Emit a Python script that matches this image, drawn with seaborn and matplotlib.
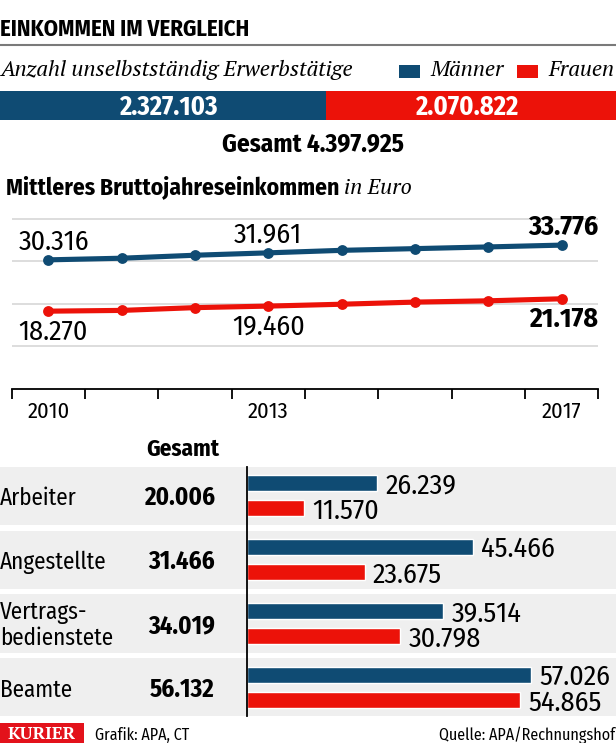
import numpy as np
import pandas as pd
import seaborn as sns
import matplotlib
matplotlib.use("Agg")
import matplotlib.pyplot as plt
from matplotlib.patches import Rectangle
from matplotlib.lines import Line2D

# ---------------- data ----------------
title = "EINKOMMEN IM VERGLEICH"
emp_label = "Anzahl unselbstständig Erwerbstätige"
sexes = ["Männer", "Frauen"]
employees = [2327103, 2070822]
subtitle_bold = "Mittleres Bruttojahreseinkommen"
subtitle_unit = "in Euro"
years = [2010, 2011, 2012, 2013, 2014, 2015, 2016, 2017]
income_m = [30316, 30700, 31400, 31961, 32550, 32950, 33350, 33776]
income_f = [18270, 18450, 19100, 19460, 19900, 20400, 20700, 21178]
labeled_years = [2010, 2013, 2017]
year_ticks = ["2010", "2013", "2017"]
groups = ["Arbeiter", "Angestellte", "Vertrags-\nbedienstete", "Beamte"]
group_total = [20006, 31466, 34019, 56132]
group_m = [26239, 45466, 39514, 57026]
group_f = [11570, 23675, 30798, 54865]
header_total = "Gesamt"
footer_brand = "KURIER"
footer_left = "Grafik: APA, CT"
footer_right = "Quelle: APA/Rechnungshof"

# ---------------- style ----------------
BLUE = "#0f4b73"
RED = "#ec1209"
BAND = "#efefef"
GRID = "#d3d3d3"
W, H = 616, 743

sns.set_theme(style="white")
SANS = ["Fira Sans Condensed", "Roboto", "DejaVu Sans"]
SERIF = ["PT Serif", "Liberation Serif", "DejaVu Serif"]
plt.rcParams["font.family"] = SANS
plt.rcParams.update({"text.color": "black", "axes.labelcolor": "black",
                     "xtick.color": "black", "ytick.color": "black"})


def de(v):
    return f"{v:,}".replace(",", ".")


fig = plt.figure(figsize=(W / 100, H / 100), dpi=100)
fig.patch.set_facecolor("white")
R = fig.canvas.get_renderer()


def size_for(s, target, **kw):
    t = fig.text(0, 0, s, fontsize=20, **kw)
    w = t.get_window_extent(R).width
    t.remove()
    return 20 * target / w


def rect(x0, y0, x1, y1):
    return [x0 / W, 1 - y1 / H, (x1 - x0) / W, (y1 - y0) / H]


def ftext(x, y, s, **kw):
    return fig.text(x / W, 1 - y / H, s, **kw)


# font sizes fitted to the reference text widths (px)
fs_title = size_for(title, 249, fontweight="bold")
fs_italic = size_for(emp_label, 353, family=SERIF, style="italic")
fs_bignum = size_for(de(employees[1]), 103, fontweight="bold")
fs_total = size_for("Gesamt 4.397.925", 183, fontweight="bold")
fs_sub = size_for(subtitle_bold, 334, fontweight="bold")
fs_num = size_for("30.316", 71)
fs_numb = size_for("33.776", 71, fontweight="bold")
fs_year = size_for("2010", 42)
fs_row = size_for("Angestellte", 107)
fs_tot = size_for("20.006", 71, fontweight="bold")
fs_head = size_for(header_total, 73, fontweight="bold")
fs_foot = size_for(footer_right, 176)
fs_brand = size_for(footer_brand, 68, family=SERIF, fontweight="bold")

# ---------------- header ----------------
ftext(0, 36, title, fontsize=fs_title, fontweight="bold", va="baseline")
fig.add_artist(Line2D([0, 1], [1 - 45 / H] * 2, color="#7a7a7a", lw=1.5,
                      transform=fig.transFigure))
ftext(0, 76.5, emp_label, family=SERIF, style="italic", fontsize=fs_italic, va="baseline")
for x0, col, lab in [(399, BLUE, sexes[0]), (517.3, RED, sexes[1])]:
    fig.add_artist(Rectangle((x0 / W, 1 - 77.7 / H), 20.5 / W, 12.7 / H,
                             transform=fig.transFigure, color=col, lw=0))
    ftext(x0 + 31, 76.5, lab, family=SERIF, style="italic", fontsize=fs_italic, va="baseline")

# stacked employee bar
ax0 = fig.add_axes(rect(0, 90.5, 616, 119.5))
ax0.barh([0], [employees[0]], color=BLUE, height=1, lw=0)
ax0.barh([0], [employees[1]], left=[employees[0]], color=RED, height=1, lw=0)
ax0.set_xlim(0, sum(employees))
ax0.set_ylim(-0.5, 0.5)
ax0.axis("off")
ax0.text(employees[0] / 2 + 35000, 0, de(employees[0]), ha="center",
         va="center_baseline", color="white", fontweight="bold", fontsize=fs_bignum)
ax0.text(employees[0] + employees[1] / 2 - 30000, 0, de(employees[1]), ha="center",
         va="center_baseline", color="white", fontweight="bold", fontsize=fs_bignum)

ftext(313, 151.5, f"Gesamt {de(sum(employees))}", ha="center", va="baseline",
      fontweight="bold", fontsize=fs_total)

# subtitle
st = ftext(6, 194, subtitle_bold, fontweight="bold", fontsize=fs_sub, va="baseline")
bb = st.get_window_extent(R)
ftext(bb.x1 + 5, 194, subtitle_unit, family=SERIF, style="italic", fontsize=fs_italic,
      va="baseline")

# ---------------- line chart ----------------
PX_PER = 42.6 / 10000
ytop = 41000
axL = fig.add_axes(rect(11.7, 389 - ytop * PX_PER, 598.3, 389))
df_line = pd.DataFrame({
    "Jahr": years * 2,
    "Einkommen": income_m + income_f,
    "Geschlecht": [sexes[0]] * len(years) + [sexes[1]] * len(years),
})
sns.lineplot(data=df_line, x="Jahr", y="Einkommen", hue="Geschlecht",
             palette=[BLUE, RED], marker="o", markersize=7.8, markeredgewidth=0,
             linewidth=3.7, legend=False, ax=axL, zorder=3)
axL.set_xlim(years[0] - 0.5, years[-1] + 0.5)
axL.set_ylim(0, ytop)
axL.set_yticks([10000, 20000, 30000, 40000])
axL.yaxis.grid(True, color=GRID, lw=1.1)
axL.tick_params(axis="y", length=0, labelleft=False)
axL.set_xticks(labeled_years, labels=year_ticks)
axL.set_xticks(np.arange(years[0] - 0.5, years[-1] + 1, 1), minor=True)
axL.tick_params(axis="x", which="minor", length=7.2, width=1.3, color="black",
                direction="out", bottom=True)
axL.tick_params(axis="x", which="major", length=0, pad=9, labelsize=fs_year)
axL.set_xlabel("")
axL.set_ylabel("")
axL.set_facecolor("none")
for s in ["left", "right", "top"]:
    axL.spines[s].set_visible(False)
axL.spines["bottom"].set_color("black")
axL.spines["bottom"].set_linewidth(1.3)

for yr in labeled_years:
    i = years.index(yr)
    if yr == years[-1]:
        ha, dx, fw, fs = "right", 26.4, "bold", fs_numb
    elif yr == years[0]:
        ha, dx, fw, fs = "left", -21.6, "normal", fs_num
    else:
        ha, dx, fw, fs = "center", 0, "normal", fs_num
    axL.annotate(de(income_m[i]), (yr, income_m[i]), xytext=(dx, 15),
                 textcoords="offset points", ha=ha, va="center_baseline",
                 fontsize=fs, fontweight=fw)
    axL.annotate(de(income_f[i]), (yr, income_f[i]), xytext=(dx, -13),
                 textcoords="offset points", ha=ha, va="center_baseline",
                 fontsize=fs, fontweight=fw)

# ---------------- bar chart ----------------
BY0, BY1 = 463.75, 719.35
axBG = fig.add_axes(rect(0, BY0, 616, BY1), zorder=-1)
axBG.set_xlim(0, W)
axBG.set_ylim(len(groups) - 0.5, -0.5)
axBG.axis("off")
for i, (g, tot) in enumerate(zip(groups, group_total)):
    axBG.axhspan(i - 0.454, i + 0.454, color=BAND, lw=0)
    if "\n" in g:
        axBG.text(0, i + 0.03, g, ha="left", va="center", fontsize=fs_row, linespacing=1.12)
    else:
        axBG.text(0, i, g, ha="left", va="center_baseline", fontsize=fs_row)
    axBG.text(215, i, de(tot), ha="right", va="center_baseline",
              fontsize=fs_tot, fontweight="bold")
ftext(182.5, 456, header_total, ha="center", va="baseline", fontweight="bold",
      fontsize=fs_head)

axB = fig.add_axes(rect(246.7, BY0, 616, BY1))
df_bar = pd.DataFrame({
    "Gruppe": groups * 2,
    "Wert": group_m + group_f,
    "Geschlecht": [sexes[0]] * len(groups) + [sexes[1]] * len(groups),
})
sns.barplot(data=df_bar, y="Gruppe", x="Wert", hue="Geschlecht", palette=[BLUE, RED],
            orient="h", width=0.8, gap=0.375, saturation=1, legend=False, ax=axB)
axB.set_xlim(0, 74160)
axB.set_ylim(len(groups) - 0.5, -0.5)
axB.set_facecolor("none")
axB.set_xlabel("")
axB.set_ylabel("")
axB.set_xticks([])
axB.set_yticks([])
for s in ["right", "top", "bottom"]:
    axB.spines[s].set_visible(False)
axB.spines["left"].set_color("black")
axB.spines["left"].set_linewidth(1.3)
axB.spines["left"].set_bounds(len(groups) - 1 + 0.454, -0.454)
for cont, vals in zip(axB.containers, [group_m, group_f]):
    for t in axB.bar_label(cont, labels=[de(v) for v in vals], padding=6, fontsize=fs_num):
        t.set_va("center_baseline")

# ---------------- footer ----------------
fig.add_artist(Rectangle((0, 1 - 742.5 / H), 84 / W, 19.5 / H,
                         transform=fig.transFigure, color="#e3121b", lw=0))
ftext(42, 732.8, footer_brand, family=SERIF, color="white", ha="center",
      va="center_baseline", fontsize=fs_brand, fontweight="bold")
ftext(95, 733.2, footer_left, va="center_baseline", fontsize=fs_foot)
ftext(615, 733.2, footer_right, ha="right", va="center_baseline", fontsize=fs_foot)

fig.savefig("out.png", dpi=100, facecolor="white")
